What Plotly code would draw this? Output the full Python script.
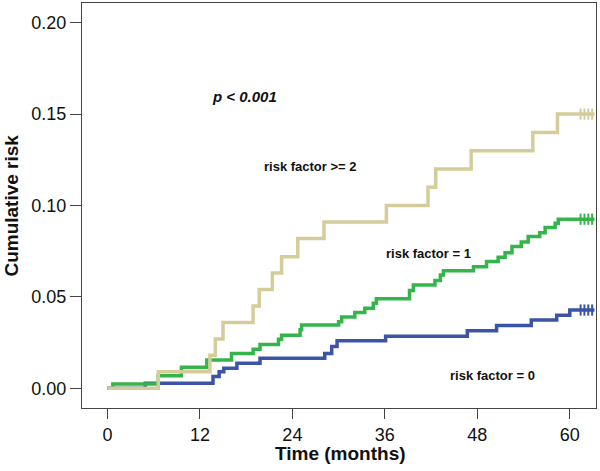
import plotly.graph_objects as go

# Time (months) and cumulative risk for each group (step functions)
t_rf2 = [0, 6.6, 13.3, 14.0, 15.0, 18.9, 19.7, 21.4, 22.6, 24.7, 28.1, 36.2, 41.6, 42.6, 47.2, 55.2, 58.4, 63.2]
y_rf2 = [0, 0.009, 0.018, 0.027, 0.036, 0.045, 0.054, 0.063, 0.072, 0.082, 0.091, 0.100, 0.110, 0.120, 0.130, 0.140, 0.150, 0.150]

t_rf1 = [0, 0.7, 6.6, 9.6, 12.9, 16.1, 18.9, 19.8, 22.2, 22.6, 25.0, 25.2, 30.0, 30.4, 32.1, 33.4, 34.5, 34.9,
         39.2, 39.7, 42.5, 43.2, 43.6, 47.5, 49.2, 50.7, 51.6, 52.5, 53.7, 54.6, 56.1, 56.8, 58.1, 58.5, 63.2]
y_rf1 = [0, 0.0023, 0.0068, 0.0115, 0.0155, 0.019, 0.0213, 0.024, 0.0268, 0.029, 0.032, 0.0346, 0.0364, 0.039,
         0.0414, 0.0438, 0.0465, 0.049, 0.0535, 0.0565, 0.059, 0.062, 0.0643, 0.0665, 0.0693, 0.0717, 0.0742,
         0.0775, 0.080, 0.083, 0.0851, 0.0879, 0.0903, 0.0925, 0.0925]

t_rf0 = [0, 4.9, 13.7, 14.5, 15.1, 16.8, 19.8, 28.2, 29.1, 29.8, 36.1, 46.7, 50.5, 55.0, 58.3, 60.0, 63.2]
y_rf0 = [0, 0.0027, 0.0064, 0.0091, 0.011, 0.0137, 0.0164, 0.019, 0.0228, 0.026, 0.0284, 0.0315, 0.0343,
         0.0374, 0.040, 0.0428, 0.0428]

# censored observations near the end of follow-up
cens_t = [61.4, 61.9, 62.4, 62.9]
cens_rf2 = [0.150] * 4
cens_rf1 = [0.0925] * 4
cens_rf0 = [0.0428] * 4

x_ticks = [0, 12, 24, 36, 48, 60]
y_ticks = [0.00, 0.05, 0.10, 0.15, 0.20]

c_rf2 = "#d4cd9b"
c_rf1 = "#34b54b"
c_rf0 = "#3b54a6"

fig = go.Figure()
for t, y, ct, cy, c in [(t_rf0, y_rf0, cens_t, cens_rf0, c_rf0),
                        (t_rf1, y_rf1, cens_t, cens_rf1, c_rf1),
                        (t_rf2, y_rf2, cens_t, cens_rf2, c_rf2)]:
    fig.add_trace(go.Scatter(x=t, y=y, mode="lines", line=dict(shape="hv", color=c, width=3.5),
                             showlegend=False, hoverinfo="skip"))
    fig.add_trace(go.Scatter(x=ct, y=cy, mode="markers",
                             marker=dict(symbol="line-ns-open", size=8, color=c, line=dict(color=c, width=2)),
                             showlegend=False, hoverinfo="skip"))

axis_common = dict(showline=True, linecolor="#444444", linewidth=1, mirror=True, showgrid=False,
                   zeroline=False, ticks="outside", tickcolor="#444444", tickwidth=1, automargin=False,
                   tickfont=dict(family="Liberation Sans, Arial", size=18, color="#111111"))

fig.update_xaxes(range=[-3.3, 63.4], tickvals=x_ticks, ticklen=10, **axis_common)
fig.update_yaxes(range=[-0.0108, 0.2108], tickvals=y_ticks, tickformat=".2f", ticklen=11, **axis_common)

font_b = "Liberation Sans, Arial"
ann = [
    dict(x=17.8, y=0.1594, text="<b><i>p < 0.001</i></b>", size=15),
    dict(x=26.4, y=0.1211, text="<b>risk factor >= 2</b>", size=13),
    dict(x=41.6, y=0.0739, text="<b>risk factor = 1</b>", size=13),
    dict(x=50.0, y=0.0069, text="<b>risk factor = 0</b>", size=13),
]
for a in ann:
    fig.add_annotation(x=a["x"], y=a["y"], xref="x", yref="y", text=a["text"], showarrow=False,
                       xanchor="center", yanchor="middle",
                       font=dict(family=font_b, size=a["size"], color="#111111"))

fig.add_annotation(x=0.502, y=-0.112, xref="paper", yref="paper", text="<b>Time (months)</b>",
                   showarrow=False, xanchor="center", yanchor="middle",
                   font=dict(family=font_b, size=19, color="#111111"))
fig.add_annotation(x=-0.138, y=0.5, xref="paper", yref="paper", text="<b>Cumulative risk</b>",
                   showarrow=False, textangle=-90, xanchor="center", yanchor="middle",
                   font=dict(family=font_b, size=19, color="#111111"))

fig.update_layout(width=600, height=471, paper_bgcolor="white", plot_bgcolor="white",
                  margin=dict(l=82, r=4, t=3, b=63, autoexpand=False))

fig.write_html("out.html", config={"displayModeBar": False},
               post_script="document.body.style.margin='0';")
